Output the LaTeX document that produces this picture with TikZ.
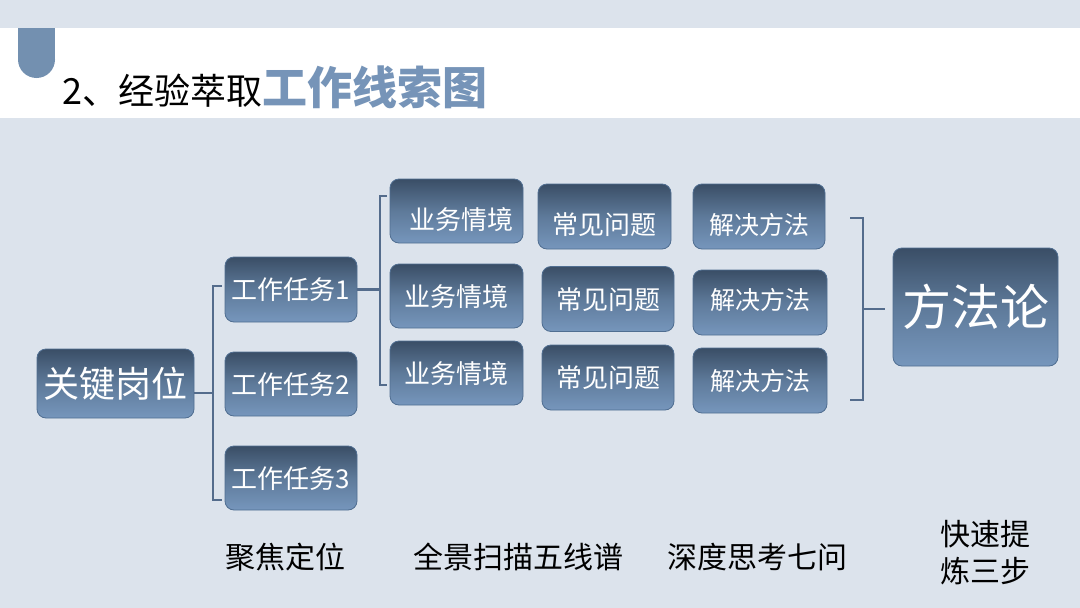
\documentclass[tikz,border=0pt]{standalone}
\usepackage{fontspec}
\setmainfont{Noto Sans CJK SC}
\usetikzlibrary{calc}
\definecolor{bg}{RGB}{220,227,236}
\definecolor{tabc}{RGB}{115,144,176}
\definecolor{titleblue}{RGB}{118,148,184}
\definecolor{linec}{RGB}{84,108,140}
\definecolor{boxtop}{RGB}{58,78,102}
\definecolor{boxmid}{RGB}{94,122,154}
\definecolor{boxbot}{RGB}{118,150,188}
\definecolor{boxedge}{RGB}{80,110,145}
\newcommand{\lowtxt}[1]{\raisebox{-8pt}{#1}}
\begin{document}
\begin{tikzpicture}[x=1pt,y=-1pt,
  box/.style={rounded corners=9pt, draw=boxedge, line width=0.8pt,
    top color=boxtop, bottom color=boxbot, middle color=boxmid,
    text=white, inner sep=0pt, align=center},
  sbox/.style={box, minimum width=133pt, minimum height=65pt,
    font=\fontsize{26}{30}\selectfont, text height=22pt, text depth=2pt},
  wire/.style={draw=linec, line width=2.5pt},
  lbl/.style={text=black, inner sep=0pt, align=center, font=\fontsize{30}{37}\selectfont}
]
\useasboundingbox (0,0) rectangle (1080,608);
\fill[bg] (0,0) rectangle (1080,608);
\fill[white] (0,28) rectangle (1080,118);
% tab
\fill[tabc] (18,28) rectangle (55,59.5);
\fill[tabc] (36.5,59.5) circle[radius=18.5pt];
% title
\node[anchor=base west, inner sep=0pt] (title) at (62,104)
  {{\fontsize{36}{40}\selectfont 2、经验萃取}{\color{titleblue}\fontsize{45}{50}\selectfont\bfseries 工作线索图}};

% boxes
\node[box, minimum width=157pt, minimum height=69pt, font=\fontsize{36}{40}\selectfont] (kgw) at (115.5,383.5) {关键岗位};
\node[sbox, minimum width=132pt] (rw1) at (291,289.5) {工作任务1};
\node[sbox, minimum width=132pt, minimum height=64pt] (rw2) at (291,384) {工作任务2};
\node[sbox, minimum width=132pt, minimum height=64pt] (rw3) at (291,478) {工作任务3};

\node[sbox, minimum height=64pt] (yw1) at (456.5,211) {\hspace*{10pt}\lowtxt{业务情境}};
\node[sbox, minimum height=64pt] (yw2) at (456.5,296) {业务情境};
\node[sbox, minimum height=64pt] (yw3) at (456.5,373) {业务情境};

\node[sbox] (wt1) at (604.5,216.5) {\lowtxt{常见问题}};
\node[sbox, minimum width=132pt] (wt2) at (608,299) {常见问题};
\node[sbox, minimum width=132pt] (wt3) at (608,377.5) {常见问题};

\node[sbox, minimum width=132pt, font=\fontsize{25}{30}\selectfont] (ff1) at (759,216.5) {\lowtxt{解决方法}};
\node[sbox, minimum width=134pt, font=\fontsize{25}{30}\selectfont] (ff2) at (760,302.5) {\raisebox{3pt}{解决方法}};
\node[sbox, minimum width=134pt, font=\fontsize{25}{30}\selectfont] (ff3) at (760,380.5) {解决方法};

\node[box, minimum width=165pt, minimum height=118pt, font=\fontsize{49}{54}\selectfont] (ffl) at (975.5,307) {方法论};

% bracket 1
\coordinate (b1t) at (213,286);
\coordinate (b1b) at (213,500);
\coordinate (b1m) at (213,393);
\draw[wire] (kgw.east |- b1m) -- (b1m);
\draw[wire] ($(b1t)+(9,0)$) -- (b1t) -- (b1b) -- ++(9,0);

% bracket 2
\coordinate (b2t) at (380,196);
\coordinate (b2b) at (380,385);
\coordinate (b2m) at (380,289.5);
\draw[wire] (rw1.east) -- (b2m);
\draw[wire] ($(b2t)+(7,0)$) -- (b2t) -- (b2b) -- ++(7,0);

% bracket 3
\coordinate (b3t) at (863,218);
\coordinate (b3b) at (863,400);
\coordinate (b3m) at (863,309);
\coordinate (b3e) at (885,309);
\draw[wire] ($(b3t)+(-13,0)$) -- (b3t) -- (b3b) -- ++(-13,0);
\draw[wire] (b3m) -- (b3e);

% bottom labels
\node[lbl] (l1) at (285,557) {聚焦定位};
\node[lbl] (l2) at (518,557) {全景扫描五线谱};
\node[lbl] (l3) at (757,557) {深度思考七问};
\node[lbl] (l4) at (985,553) {快速提\\炼三步};
\end{tikzpicture}
\end{document}
